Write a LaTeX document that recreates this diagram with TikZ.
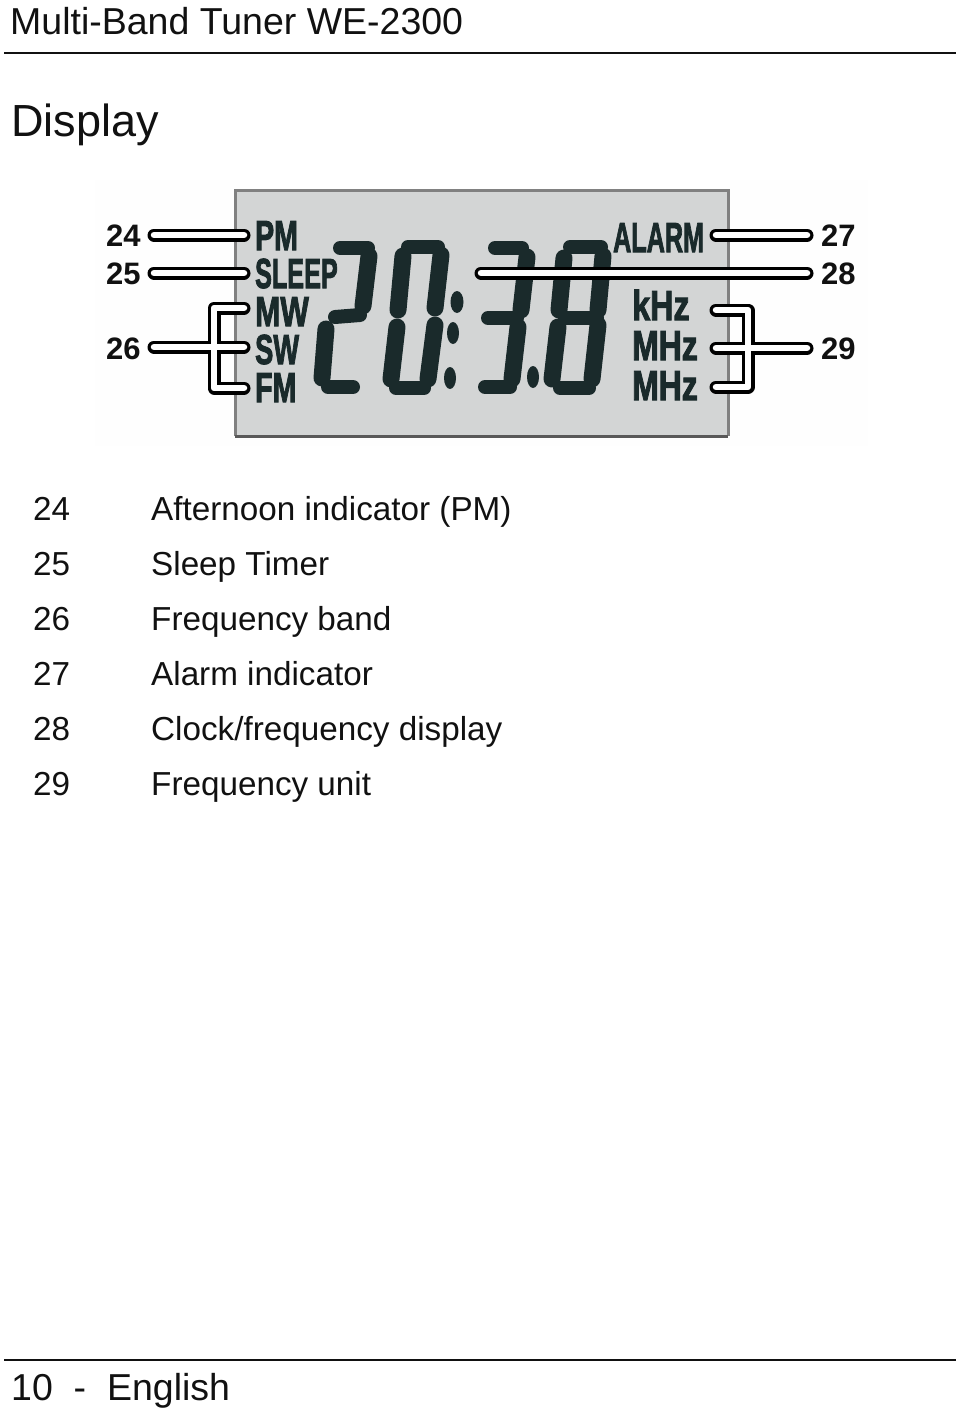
\documentclass[tikz,border=0pt]{standalone}
\usepackage{fontspec}
\setmainfont{Liberation Sans}
\newfontfamily\lcdfont[FakeBold=2.5]{Liberation Sans Bold}
\newcommand{\fs}[1]{\fontsize{#1}{#1}\selectfont}
\definecolor{lcdbg}{HTML}{D3D5D5}
\definecolor{seg}{HTML}{1A2A2B}
\definecolor{ink}{HTML}{111111}
\tikzset{
  pagetext/.style={inner sep=0pt,anchor=base west,text=ink,font=\fs{33.25}},
  headtext/.style={inner sep=0pt,anchor=base west,text=ink,font=\fs{37.5}},
  titletext/.style={inner sep=0pt,anchor=base west,text=ink,font=\fs{45}},
  rulestyle/.style={line width=2.4pt,draw=ink},
  lcdlabel/.style={inner sep=0pt,anchor=base west,text=seg,font=\lcdfont\fs{42},xscale=#1},
  calloutnum/.style={inner sep=0pt,anchor=base west,text=ink,font=\fs{31}\bfseries},
  segv/.style={draw=seg,line width=17pt,line cap=round},
  segh/.style={draw=seg,line width=14pt,line cap=round},
  dotm/.style={fill=seg,draw=none},
  leadout/.style={draw=black,line width=13pt,line cap=round,line join=round},
  leadin/.style={draw=white,line width=6.5pt,line cap=round,line join=round},
}
\begin{document}
\begin{tikzpicture}[x=1pt,y=-1pt]
\useasboundingbox (0,0) rectangle (960,1416);
\fill[white] (0,0) rectangle (960,1416);
% page furniture
\node[headtext] (head) at (10,34) {Multi-Band Tuner WE-2300};
\coordinate (hrA) at (4,53); \coordinate (hrB) at (956,53);
\draw[rulestyle] (hrA) -- (hrB);
\node[titletext] (title) at (11,136) {Display};
% picture background + LCD
\fill[white!97!lcdbg] (95,180) rectangle (868,446);
\fill[lcdbg] (235,190) rectangle (728,436);
\draw[line width=3pt,draw=black!50] (235,436) -- (235,190) -- (728,190) -- (728,436);
\draw[line width=3pt,draw=black!65] (235,436) -- (728,436);
% digit 2
\draw[segh] (340,248) -- (368,248);
\draw[segv] (369,256) -- (363,306);
\draw[segh] (335,317) -- (360,315);
\draw[segv] (326,329) -- (322,378);
\draw[segh] (328,387) -- (353,387);
% digit 0
\draw[segh] (408,247) -- (438,247);
\draw[segv] (403,256) -- (398,310);
\draw[segv] (441,255) -- (435,308);
\draw[segv] (397,327) -- (391,379);
\draw[segv] (435,325) -- (428,379);
\draw[segh] (396,388) -- (424,388);
% colon marks
\fill[dotm] (457,302) ellipse [x radius=6.5,y radius=11];
\fill[dotm] (453,333) ellipse [x radius=6,y radius=11];
\fill[dotm] (450,378) ellipse [x radius=6,y radius=11];
% digit 3
\draw[segh] (495,248) -- (522,248);
\draw[segv] (527,257) -- (521,310);
\draw[segh] (488,318) -- (517,318);
\draw[segv] (518,327) -- (512,379);
\draw[segh] (485,387) -- (510,387);
\fill[dotm] (533,377) ellipse [x radius=6,y radius=11];
% digit 8
\draw[segh] (570,247) -- (601,247);
\draw[segv] (564,258) -- (559,310);
\draw[segv] (603,256) -- (598,310);
\draw[segh] (565,318) -- (597,318);
\draw[segv] (558,327) -- (552,379);
\draw[segv] (598,325) -- (592,379);
\draw[segh] (560,388) -- (589,388);
% LCD labels
\node[lcdlabel=0.68] (pm) at (255,250) {PM};
\node[lcdlabel=0.60] (sleep) at (255,288) {SLEEP};
\node[lcdlabel=0.72] (mw) at (255,326) {MW};
\node[lcdlabel=0.65] (sw) at (255,364) {SW};
\node[lcdlabel=0.68] (fm) at (255,402) {FM};
\node[lcdlabel=0.60] (alarm) at (613,252) {ALARM};
\node[lcdlabel=0.77] (khz) at (632,320) {kHz};
\node[lcdlabel=0.76] (mhzA) at (632,360) {MHz};
\node[lcdlabel=0.76] (mhzB) at (632,400) {MHz};
% callout numbers
\node[calloutnum] (n24) at (106,246) {24};
\node[calloutnum] (n25) at (106,284) {25};
\node[calloutnum] (n26) at (106,359) {26};
\node[calloutnum] (n27) at (821,246) {27};
\node[calloutnum] (n28) at (821,284) {28};
\node[calloutnum] (n29) at (821,359) {29};
% leader anchor points
\coordinate (a24) at (154,235); \coordinate (b24) at (244,235);
\coordinate (a25) at (154,273); \coordinate (b25) at (244,273);
\coordinate (a26) at (154,347); \coordinate (b26) at (244,347);
\coordinate (mw1) at (244,308); \coordinate (fm1) at (244,388);
\coordinate (brLt) at (214,308); \coordinate (brLb) at (214,388);
\coordinate (a27) at (807,235); \coordinate (b27) at (716,235);
\coordinate (a28) at (807,273); \coordinate (b28) at (481,273);
\coordinate (a29) at (807,348); \coordinate (b29) at (716,348);
\coordinate (khz1) at (716,310); \coordinate (mhz1) at (716,387);
\coordinate (brRt) at (748,310); \coordinate (brRb) at (748,387);
% outlines
\draw[leadout] (a24) -- (b24);
\draw[leadout] (a25) -- (b25);
\draw[leadout] (a26) -- (b26);
\draw[leadout] (mw1) -- (brLt) -- (brLb) -- (fm1);
\draw[leadout] (a27) -- (b27);
\draw[leadout] (a28) -- (b28);
\draw[leadout] (a29) -- (b29);
\draw[leadout] (khz1) -- (brRt) -- (brRb) -- (mhz1);
% white core
\draw[leadin] (a24) -- (b24);
\draw[leadin] (a25) -- (b25);
\draw[leadin] (a26) -- (b26);
\draw[leadin] (mw1) -- (brLt) -- (brLb) -- (fm1);
\draw[leadin] (a27) -- (b27);
\draw[leadin] (a28) -- (b28);
\draw[leadin] (a29) -- (b29);
\draw[leadin] (khz1) -- (brRt) -- (brRb) -- (mhz1);
% legend
\node[pagetext] (l24) at (33,520) {24};
\node[pagetext] (t24) at (151,520) {Afternoon indicator (PM)};
\node[pagetext] (l25) at (33,575) {25};
\node[pagetext] (t25) at (151,575) {Sleep Timer};
\node[pagetext] (l26) at (33,630) {26};
\node[pagetext] (t26) at (151,630) {Frequency band};
\node[pagetext] (l27) at (33,685) {27};
\node[pagetext] (t27) at (151,685) {Alarm indicator};
\node[pagetext] (l28) at (33,740) {28};
\node[pagetext] (t28) at (151,740) {Clock/frequency display};
\node[pagetext] (l29) at (33,795) {29};
\node[pagetext] (t29) at (151,795) {Frequency unit};
% footer
\coordinate (frA) at (4,1360); \coordinate (frB) at (956,1360);
\draw[rulestyle] (frA) -- (frB);
\node[headtext] (foot) at (11,1400) {10~~-~~English};
\end{tikzpicture}
\end{document}
